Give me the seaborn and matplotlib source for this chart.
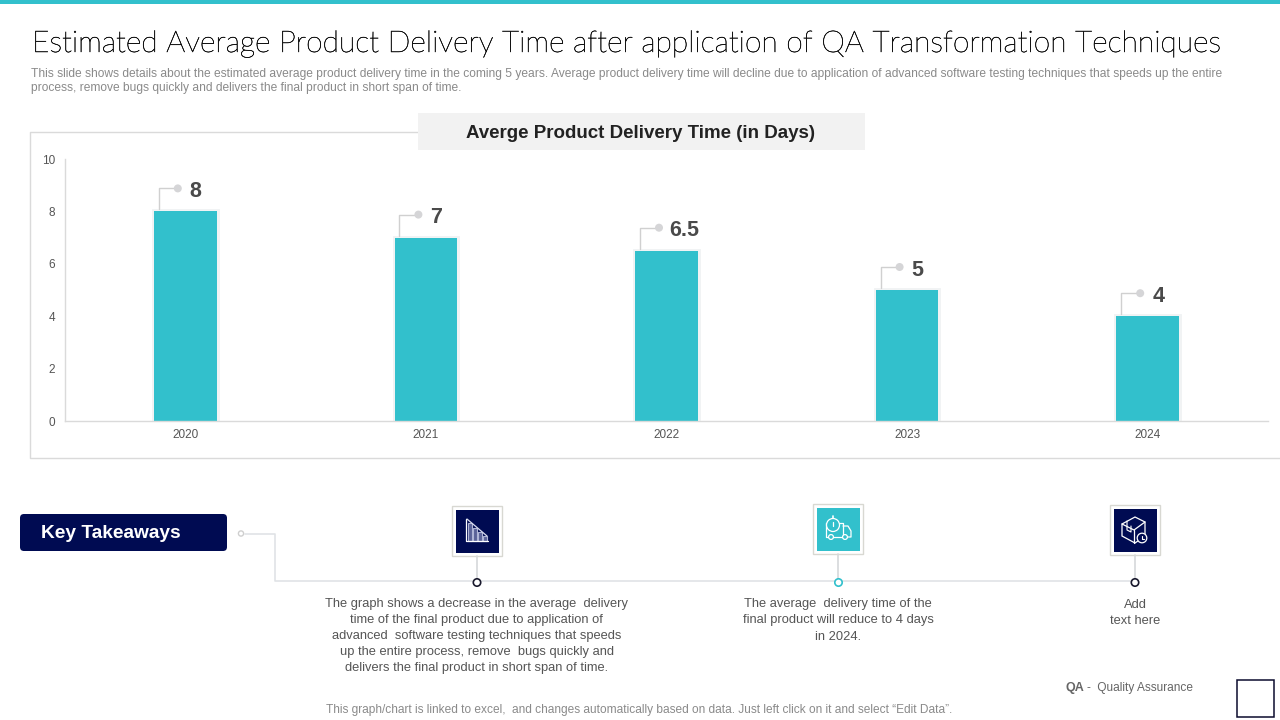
import matplotlib
matplotlib.use('Agg')
import matplotlib.pyplot as plt
import matplotlib.patheffects as pe
import pandas as pd
import seaborn as sns
from matplotlib.patches import Rectangle, FancyBboxPatch, Circle, Polygon

years = ['2020', '2021', '2022', '2023', '2024']
delivery_days = [8, 7, 6.5, 5, 4]
value_labels = ['8', '7', '6.5', '5', '4']
y_ticks = [0, 2, 4, 6, 8, 10]

title = 'Estimated Average Product Delivery Time after application of QA Transformation Techniques'
subtitle_lines = [
    'This slide shows details about the estimated average product delivery time in the coming 5 years. Average product delivery time will decline due to application of advanced software testing techniques that speeds up the entire',
    'process, remove bugs quickly and delivers the final product in short span of time.',
]
chart_title = 'Averge Product Delivery Time (in Days)'
takeaway_1 = ['The graph shows a decrease in the average  delivery', 'time of the final product due to application of',
              'advanced  software testing techniques that speeds', 'up the entire process, remove  bugs quickly and',
              'delivers the final product in short span of time.']
takeaway_2 = ['The average  delivery time of the', 'final product will reduce to 4 days', 'in 2024.']
takeaway_3 = ['Add', 'text here']
footer = 'This graph/chart is linked to excel,  and changes automatically based on data. Just left click on it and select \u201cEdit Data\u201d.'

TEAL = '#32C0CC'
NAVY = '#000B52'
GREY = '#DADADA'
W, H = 1280, 720

sns.set_theme(style='white')
plt.rcParams['font.family'] = ['Liberation Sans', 'DejaVu Sans']

fig = plt.figure(figsize=(12.8, 7.2), dpi=100, facecolor='white')

# background layer in pixel coords
bg = fig.add_axes([0, 0, 1, 1], zorder=0)
bg.set_xlim(0, W)
bg.set_ylim(H, 0)
bg.axis('off')

# main chart
ax = fig.add_axes([65 / W, 1 - 421 / H, (1268 - 65) / W, (421 - 159) / H], zorder=1)
ax.patch.set_alpha(0)
df = pd.DataFrame({'year': years, 'days': delivery_days})
sns.barplot(data=df, x='year', y='days', color=TEAL, saturation=1, width=0.26, linewidth=0, ax=ax)
for bar in ax.patches:
    bar.set_path_effects([pe.withStroke(linewidth=3.5, foreground='#F1F3F4')])
ax.set_xlim(-0.5, 4.5)
ax.set_ylim(0, 10)
ax.set_yticks(y_ticks)
ax.set_xlabel('')
ax.set_ylabel('')
ax.tick_params(axis='both', length=0, labelsize=8.5, labelcolor='#555555')
ax.tick_params(axis='x', pad=6)
ax.tick_params(axis='y', pad=7)
sns.despine(ax=ax)
for s in ['left', 'bottom']:
    ax.spines[s].set_color(GREY)
    ax.spines[s].set_linewidth(1)

# overlay for everything else
ov = fig.add_axes([0, 0, 1, 1], zorder=2)
ov.set_xlim(0, W)
ov.set_ylim(H, 0)
ov.axis('off')


def centered(x, y, lines, step=16, **kw):
    for i, line in enumerate(lines):
        ov.text(x, y + i * step, line, ha='center', va='center', **kw)


# callouts follow the bars
fig.canvas.draw()
for i, (v, lab) in enumerate(zip(delivery_days, value_labels)):
    px, py = ax.transData.transform((i, v))
    py = H - py
    lx = px - 26.5
    ov.plot([lx, lx, lx + 19], [py - 2, py - 23, py - 23], color='#D0D0D0', lw=1)
    ov.add_patch(Circle((lx + 19, py - 23), 4, color='#D5D5D7', lw=0, zorder=5))
    ov.text(lx + 37 + (7 if len(lab) > 1 else 0), py - 20, lab, ha='center', va='center',
            fontsize=15.5, fontweight='bold', color='#4A4A4A')

# header
bg.add_patch(Rectangle((0, 0), W, 4, color=TEAL, lw=0))
title_txt = ov.text(32, 44, title, family='Lato', fontweight='light', fontsize=21.6, color='#111111',
                    va='center', ha='left')
title_txt.set_path_effects([pe.withStroke(linewidth=0.35, foreground='#111111')])
for i, line in enumerate(subtitle_lines):
    ov.text(31, 74 + i * 14, line, fontsize=8.63, color='#8A8A8A', va='center', ha='left')

# chart card and its title
bg.plot([418, 30, 30, 1280], [132, 132, 458, 458], color=GREY, lw=1)
ov.add_patch(Rectangle((418, 113), 447, 37, color='#F2F2F2', lw=0))
ov.text(641, 133, chart_title, fontsize=13.5, fontweight='bold', color='#222222', ha='center', va='center')

# key takeaways
ov.add_patch(FancyBboxPatch((22, 516), 203, 33, boxstyle='round,pad=2,rounding_size=4', color=NAVY, lw=0))
ov.text(41, 533, 'Key Takeaways', fontsize=13.8, fontweight='bold', color='white', ha='left', va='center')
ov.plot([245, 275, 275, 1135], [533.5, 533.5, 581, 581], color='#E0E3E6', lw=1.2)
ov.add_patch(Circle((241, 533.5), 2.6, fc='white', ec='#CFCFCF', lw=1))


def icon_box(cx, cy, fill):
    ov.add_patch(Rectangle((cx - 25, cy - 25), 50, 50, fc='white', ec='#D8D8D2', lw=1))
    ov.add_patch(Rectangle((cx - 21.5, cy - 21.5), 43, 43, fc=fill, lw=0))
    ov.plot([cx, cx], [cy + 25, 578], color='#D5D8DA', lw=1.2)


# falling bars icon
icon_box(477, 531, NAVY)
for bx, top in zip([468, 473, 478, 483], [523, 528, 532, 536]):
    ov.add_patch(Rectangle((bx, top), 3.5, 541 - top, fc='#5A6298', ec='#AEB4D6', lw=0.8))
ov.plot([465.5, 465.5, 488], [519, 541, 541], color='white', lw=0.9)
ov.plot([467, 487], [519, 536], color='#D8DBEE', lw=0.9)

# truck and stopwatch icon
icon_box(838, 529, TEAL)
ov.plot([826, 826, 843, 843, 826], [523, 537, 537, 523, 523], color='white', lw=0.9)
ov.plot([843, 848, 851, 851, 843], [526, 526, 531, 537, 537], color='white', lw=0.9)
ov.add_patch(Circle((833, 525), 6.5, fc=TEAL, ec='white', lw=0.9, zorder=4))
ov.plot([833, 833], [516, 518], color='white', lw=1.2, zorder=5)
ov.plot([833, 833], [522, 526], color='white', lw=0.9, zorder=5)
ov.add_patch(Circle((831, 537), 2.4, fc=TEAL, ec='white', lw=0.9, zorder=4))
ov.add_patch(Circle((845, 537), 2.4, fc=TEAL, ec='white', lw=0.9, zorder=4))

# parcel icon
icon_box(1135, 530, NAVY)
ov.add_patch(Polygon([(1122, 524), (1135, 517), (1145, 522), (1145, 536), (1135, 543), (1122, 536)],
                     closed=True, fc='none', ec='white', lw=0.9))
ov.plot([1122, 1134, 1145], [524, 530, 522], color='white', lw=0.9)
ov.plot([1134, 1134], [530, 543], color='white', lw=0.9)
ov.plot([1127, 1127, 1131, 1131], [521, 530, 532, 526], color='white', lw=0.8)
ov.add_patch(Circle((1142, 538), 4.8, fc=NAVY, ec='white', lw=0.9, zorder=4))
ov.plot([1142, 1142, 1144], [535.5, 538.5, 538.5], color='white', lw=0.8, zorder=5)

# timeline dots
for cx, ec in [(477, '#1A1A2E'), (838.5, TEAL), (1135, '#1A1A2E')]:
    ov.add_patch(Circle((cx, 582.5), 3.7, fc='white', ec=ec, lw=1.2, zorder=5))

text_kw = dict(fontsize=9.3, color='#555555')
centered(476.5, 604.5, takeaway_1, **text_kw)
centered(838, 604.5, takeaway_2, **text_kw)
centered(1135, 604.5, takeaway_3, **text_kw)

# footer
ov.text(1066, 688, 'QA', fontsize=9, fontweight='bold', color='#666666', va='center')
ov.text(1087, 688, '-  Quality Assurance', fontsize=8.6, color='#666666', va='center')
ov.add_patch(Rectangle((1236.5, 680), 37, 37, fc='white', ec='#0B0B2E', lw=1.1))
ov.text(639, 709.5, footer, fontsize=8.53, color='#8A8A8A', ha='center', va='center')

fig.savefig('out.png', dpi=100)
plt.close(fig)
